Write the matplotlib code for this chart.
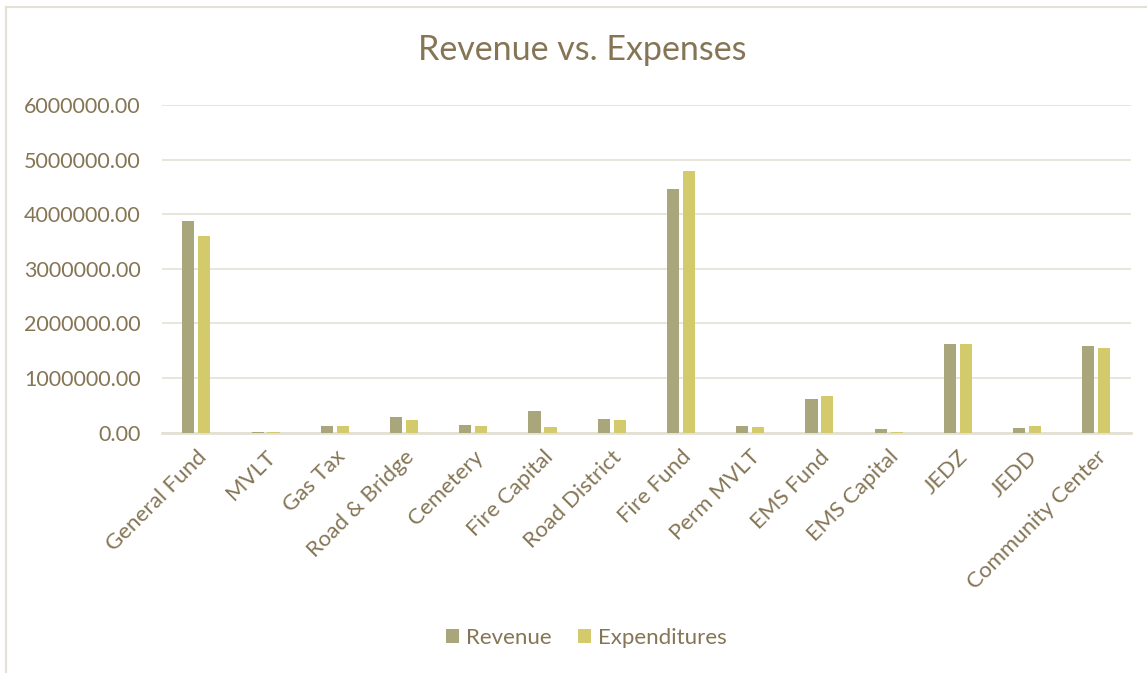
import numpy as np
import matplotlib.pyplot as plt
from matplotlib.patches import Rectangle

categories = ['General Fund', 'MVLT', 'Gas Tax', 'Road & Bridge', 'Cemetery',
              'Fire Capital', 'Road District', 'Fire Fund', 'Perm MVLT',
              'EMS Fund', 'EMS Capital', 'JEDZ', 'JEDD', 'Community Center']
revenue = [3870000, 20000, 120000, 280000, 150000, 390000, 250000,
           4460000, 115000, 610000, 70000, 1630000, 85000, 1580000]
expenditures = [3610000, 15000, 120000, 230000, 130000, 100000, 240000,
                4790000, 110000, 680000, 10000, 1620000, 120000, 1560000]

text_col = '#857555'
grid_col = '#E4E0D6'

plt.rcParams['font.family'] = ['Lato', 'DejaVu Sans']

fig = plt.figure(figsize=(11.47, 6.73), dpi=100)
ax = fig.add_axes([0.141, 0.357, 0.845, 0.487])

x = np.arange(len(categories))
w = 0.175
ax.bar(x - 0.115, revenue, w, color='#A9A67C', label='Revenue', zorder=3)
ax.bar(x + 0.115, expenditures, w, color='#D3CB6B', label='Expenditures', zorder=3)

ax.set_ylim(0, 6000000)
ax.set_xlim(-0.5, len(categories) - 0.5)
ticks = np.arange(0, 6000001, 1000000)
ax.set_yticks(ticks)
ax.set_yticklabels(['%.2f' % t for t in ticks])
ax.yaxis.grid(True, color=grid_col, linewidth=1.2, zorder=0)
ax.set_xticks(x)
ax.set_xticklabels(categories, rotation=45, ha='right', rotation_mode='anchor')
ax.tick_params(axis='both', length=0, colors=text_col)
ax.tick_params(axis='y', pad=15, labelsize=15.5)
ax.tick_params(axis='x', pad=10, labelsize=16)
for s in ['top', 'right', 'left']:
    ax.spines[s].set_visible(False)
ax.spines['bottom'].set_color(grid_col)
ax.spines['bottom'].set_linewidth(2)

fig.text(0.508, 0.925, 'Revenue vs. Expenses', ha='center', va='center',
         fontsize=24.5, color=text_col)

fig.legend(loc='center', bbox_to_anchor=(0.511, 0.052), ncol=2, frameon=False,
           fontsize=16, labelcolor=text_col, handlelength=0.6, handleheight=0.6,
           columnspacing=1.2, handletextpad=0.3)

fig.patches.append(Rectangle((0.0055, -0.01), 1.1, 1.0,
                             transform=fig.transFigure, fill=False,
                             edgecolor='#E4E0D6', linewidth=1.5))

fig.savefig('out.png', dpi=100, facecolor='white')
